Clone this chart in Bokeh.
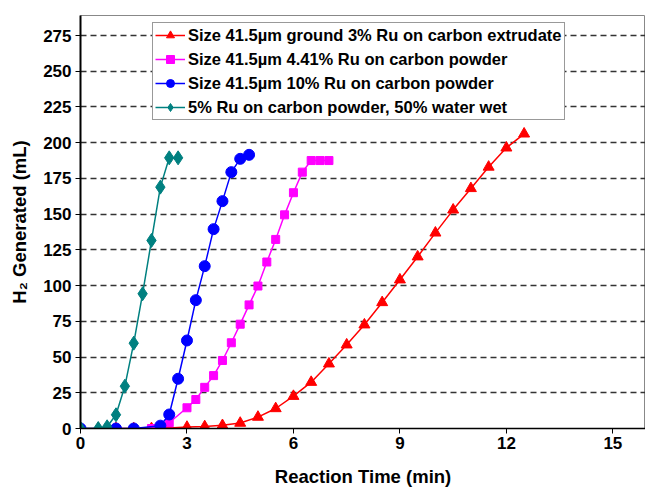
from bokeh.plotting import figure
from bokeh.models import FixedTicker, Range1d, Legend
from bokeh.embed import file_html
from bokeh.resources import INLINE

# ---- data ----
red_x = [0, 0.5, 1, 1.5, 2, 2.5, 3, 3.5, 4, 4.5, 5, 5.5, 6, 6.5, 7, 7.5, 8, 8.5, 9, 9.5, 10, 10.5, 11, 11.5, 12, 12.5]
red_y = [0, 0, 0, 0, 0, 0.3, 1, 1.4, 2.2, 3.8, 8, 14, 22.6, 32.4, 45.3, 58.6, 72.6, 88.2, 104.1, 120.2, 136.9, 153, 168, 183, 196.4, 206.2]

mag_x = [2, 2.5, 3, 3.25, 3.5, 3.75, 4, 4.25, 4.5, 4.75, 5, 5.25, 5.5, 5.75, 6, 6.25, 6.5, 6.75, 7]
mag_y = [0, 4, 14.5, 20.3, 28.8, 37, 47.6, 60, 73, 86.5, 99.7, 116.5, 132.3, 149.5, 165, 179.4, 187.5, 187.5, 187.5]

blue_x = [0, 1, 1.5, 2.25, 2.5, 2.75, 3, 3.25, 3.5, 3.75, 4, 4.25, 4.5, 4.75]
blue_y = [0, 0, 0, 2, 9.8, 34.8, 61.6, 89.8, 113.6, 139.5, 159.1, 179.4, 188.7, 191.5]

teal_x = [0, 0.5, 0.75, 1, 1.25, 1.5, 1.75, 2, 2.25, 2.5, 2.75]
teal_y = [0, 0, 1.2, 9.6, 29.6, 59.7, 94.3, 131.6, 168.9, 189.4, 189.4]

labels = [
    "Size 41.5µm ground 3% Ru on carbon extrudate",
    "Size 41.5µm 4.41% Ru on carbon powder",
    "Size 41.5µm 10% Ru on carbon powder",
    "5% Ru on carbon powder, 50% water wet",
]
x_ticks = [0, 3, 6, 9, 12, 15]
y_ticks = [0, 25, 50, 75, 100, 125, 150, 175, 200, 225, 250, 275]

FONT = "Liberation Sans"

p = figure(width=645, height=489, output_backend="svg", toolbar_location=None,
           x_range=Range1d(0, 15.92), y_range=Range1d(0, 289),
           min_border_left=80, min_border_right=0, min_border_top=15, min_border_bottom=61)
p.background_fill_color = "white"
p.border_fill_color = "white"
p.outline_line_color = "#888888"
p.outline_line_width = 1

# grid
p.xgrid.visible = False
p.ygrid.ticker = FixedTicker(ticks=y_ticks[1:])
p.ygrid.grid_line_color = "#333333"
p.ygrid.grid_line_dash = "6 4"
p.ygrid.grid_line_width = 1.5

# axes
p.xaxis.ticker = FixedTicker(ticks=x_ticks)
p.yaxis.ticker = FixedTicker(ticks=y_ticks)
for ax in (p.xaxis[0], p.yaxis[0]):
    ax.axis_line_color = "black"
    ax.major_tick_line_color = "black"
    ax.major_tick_out = 5
    ax.major_tick_in = 0
    ax.minor_tick_line_color = None
    ax.major_label_text_font = FONT
    ax.major_label_text_font_style = "bold"
    ax.major_label_text_font_size = "17px"
    ax.major_label_text_color = "black"
    ax.axis_label_text_font = FONT
    ax.axis_label_text_font_style = "bold"
    ax.axis_label_text_font_size = "18.5px"
    ax.axis_label_text_color = "black"
p.yaxis.axis_line_width = 2
p.xaxis.axis_line_width = 1.5
p.xaxis.axis_label = "Reaction Time (min)"
p.yaxis.axis_label = "H₂ Generated (mL)"
p.xaxis.major_label_standoff = 3
p.yaxis.major_label_standoff = 4
p.xaxis.axis_label_standoff = 14
p.yaxis.axis_label_standoff = 10

# series
items = []
series = [
    (red_x, red_y, "red", "triangle", 11),
    (mag_x, mag_y, "magenta", "square", 8),
    (blue_x, blue_y, "blue", "circle", 11),
    (teal_x, teal_y, "#008080", "diamond", 14),
]
for (xs, ys, col, mk, sz), lab in zip(series, labels):
    l = p.line(xs, ys, line_color=col, line_width=1.5)
    s = p.scatter(xs, ys, marker=mk, size=sz, fill_color=col, line_color=col)
    items.append((lab, [l, s]))

legend = Legend(items=items, location=(72, 308))
legend.label_text_font = FONT
legend.label_text_font_style = "bold"
legend.label_text_font_size = "16.5px"
legend.label_text_color = "black"
legend.border_line_color = "#333333"
legend.border_line_width = 1.5
legend.background_fill_color = "white"
legend.background_fill_alpha = 1.0
legend.padding = 2
legend.spacing = 4
legend.label_height = 20
legend.glyph_height = 20
legend.glyph_width = 30
legend.label_standoff = 3
legend.margin = 0
p.add_layout(legend, "center")

open("out.html", "w").write(file_html(p, INLINE))
